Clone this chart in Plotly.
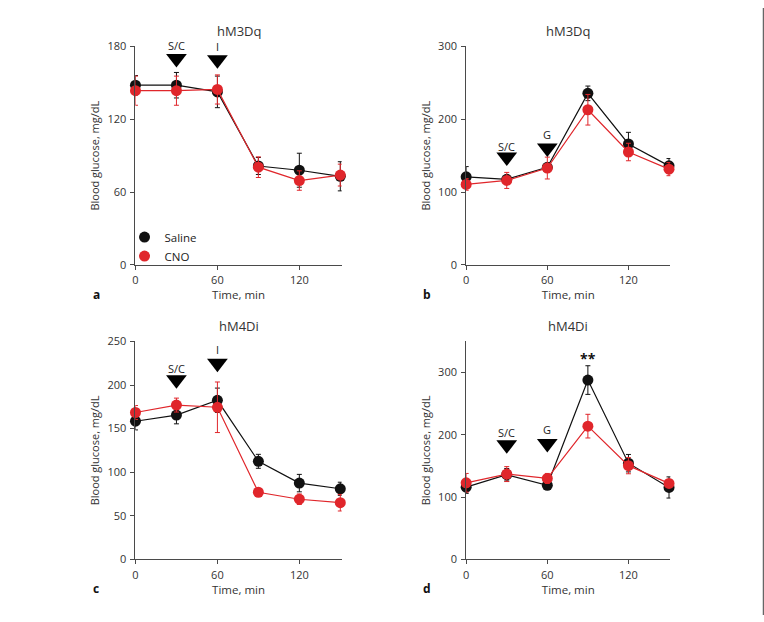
import plotly.graph_objects as go

W, H = 764, 622
time = [0, 30, 60, 90, 120, 150]

# Panel a: hM3Dq, insulin
a_saline = [148, 148, 142.5, 81.5, 78, 73]
a_saline_err = [8, 10.5, 13, 7, 14, 12]
a_cno = [143.5, 143.5, 144.5, 80.5, 69.5, 74]
a_cno_err = [12, 12, 12, 8.5, 8, 9]

# Panel b: hM3Dq, glucose
b_saline = [121, 117.5, 134, 235.5, 166, 136]
b_saline_err = [14, 5, 5, 10, 16, 10]
b_cno = [110.5, 116, 133, 213, 155, 131.5]
b_cno_err = [8, 11, 15, 21, 12, 9]

# Panel c: hM4Di, insulin
c_saline = [158.5, 165.5, 182.5, 112.5, 87.5, 81]
c_saline_err = [10, 10, 14, 8, 10, 7.5]
c_cno = [168.5, 177, 174.5, 77, 69, 65]
c_cno_err = [8, 8, 29, 3, 6, 9.5]

# Panel d: hM4Di, glucose
d_saline = [116, 136, 119, 288, 154.5, 115.5]
d_saline_err = [10, 10, 4, 23, 14, 17]
d_cno = [123, 137, 130, 214, 150.5, 122]
d_cno_err = [15, 12, 8, 19, 13, 5]

titles = ["hM3Dq", "hM3Dq", "hM4Di", "hM4Di"]
panel_letters = ["a", "b", "c", "d"]
y_ranges = [[0, 180], [0, 300], [0, 250], [0, 350]]
y_ticks = [[0, 60, 120, 180], [0, 100, 200, 300], [0, 50, 100, 150, 200, 250], [0, 100, 200, 300]]
x_ticks = [0, 60, 120]
x_range = [0, 151]

# injection markers: (time, y_triangle, label, y_label)
arrows = [
    [(30, 170, "S/C", 180.5), (60, 169, "I", 180)],
    [(30, 148, "S/C", 163), (60, 160.5, "G", 179)],
    [(30, 206, "S/C", 219), (60, 225, "I", 241)],
    [(30, 184, "S/C", 203), (60, 186, "G", 208)],
]
legend_names = ["Saline", "CNO"]

RED = "#e0262b"
BLACK = "#111111"
AXC = "#4a4a4a"
FONT = "Open Sans"

domains_x = [[133 / W, 340 / W], [465 / W, 670 / W], [133 / W, 340 / W], [465 / W, 670 / W]]
domains_y = [[1 - 263.3 / H, 1 - 39.3 / H], [1 - 263.3 / H, 1 - 39.3 / H],
             [1 - 565 / H, 1 - 341.7 / H], [1 - 565 / H, 1 - 341.7 / H]]

data = [
    (a_saline, a_saline_err, a_cno, a_cno_err),
    (b_saline, b_saline_err, b_cno, b_cno_err),
    (c_saline, c_saline_err, c_cno, c_cno_err),
    (d_saline, d_saline_err, d_cno, d_cno_err),
]


def to_paper_x(i, v):
    d = domains_x[i]
    return d[0] + (v - x_range[0]) / (x_range[1] - x_range[0]) * (d[1] - d[0])


def to_paper_y(i, v):
    d = domains_y[i]
    r = y_ranges[i]
    return d[0] + (v - r[0]) / (r[1] - r[0]) * (d[1] - d[0])


fig = go.Figure()
annotations = []
layout = {}
for i, (s, se, c, ce) in enumerate(data):
    n = "" if i == 0 else str(i + 1)
    xa, ya = "x" + n, "y" + n
    for vals, errs, color, name in [(s, se, BLACK, "Saline"), (c, ce, RED, "CNO")]:
        fig.add_trace(go.Scatter(
            x=time, y=vals, xaxis=xa, yaxis=ya, mode="lines+markers",
            name=name, showlegend=False,
            line=dict(color=color, width=1.2),
            marker=dict(color=color, size=11),
            error_y=dict(type="data", array=errs, color=color, thickness=1, width=2.5),
            cliponaxis=False,
        ))
    tx = [t for t, _, _, _ in arrows[i]]
    ty = [y for _, y, _, _ in arrows[i]]
    fig.add_trace(go.Scatter(
        x=tx, y=ty, xaxis=xa, yaxis=ya, mode="markers", showlegend=False,
        marker=dict(symbol="triangle-down", size=18, color="#000000"),
        cliponaxis=False, hoverinfo="skip",
    ))
    for t, _, lab, yl in arrows[i]:
        annotations.append(dict(x=to_paper_x(i, t), y=to_paper_y(i, yl), xref="paper", yref="paper",
                                text=lab, showarrow=False, xanchor="center", yanchor="middle",
                                font=dict(family=FONT, size=11, color="#222")))
    layout["xaxis" + n] = dict(
        domain=domains_x[i], range=x_range, anchor=ya, tickvals=x_ticks,
        showline=True, linecolor=AXC, linewidth=1, ticks="outside", ticklen=4,
        tickcolor=AXC, showgrid=False, zeroline=False, ticklabelstandoff=1,
        tickfont=dict(family=FONT, size=11, color="#333"),
        title=dict(text="Time, min", font=dict(family=FONT, size=11.5, color="#333"), standoff=4),
    )
    layout["yaxis" + n] = dict(
        domain=domains_y[i], range=y_ranges[i], anchor=xa, tickvals=y_ticks[i],
        showline=True, linecolor=AXC, linewidth=1, ticks="outside", ticklen=4,
        tickcolor=AXC, showgrid=False, zeroline=False, ticklabelstandoff=2,
        tickfont=dict(family=FONT, size=11, color="#333"),
        title=dict(text="Blood glucose, mg/dL", font=dict(family=FONT, size=11, color="#333"), standoff=5),
    )
    xc = (domains_x[i][0] + domains_x[i][1]) / 2
    annotations.append(dict(x=xc, y=domains_y[i][1], xref="paper", yref="paper",
                            yshift=15, text=titles[i], showarrow=False,
                            font=dict(family=FONT, size=13, color="#333"),
                            xanchor="center", yanchor="middle"))
    annotations.append(dict(x=domains_x[i][0] - 45 / W, y=domains_y[i][0] - 30 / H,
                            xref="paper", yref="paper", text="<b>" + panel_letters[i] + "</b>",
                            showarrow=False, xanchor="left", yanchor="middle",
                            font=dict(family=FONT, size=12, color="#111")))

annotations.append(dict(x=90, y=322, xref="x4", yref="y4", text="<b>**</b>", showarrow=False,
                        font=dict(family=FONT, size=14, color="#111")))

# legend entries (marker-only swatches, no data)
for nm, col in zip(legend_names, [BLACK, RED]):
    fig.add_trace(go.Scatter(x=[None], y=[None], mode="markers", name=nm,
                             marker=dict(color=col, size=11), showlegend=True))

fig.update_layout(
    width=W, height=H, margin=dict(l=0, r=0, t=0, b=0),
    paper_bgcolor="white", plot_bgcolor="white",
    annotations=annotations,
    showlegend=True,
    legend=dict(x=122 / W, y=1 - 244.5 / H, xanchor="left", yanchor="middle",
                bgcolor="rgba(0,0,0,0)", borderwidth=0, itemwidth=30, tracegroupgap=0,
                font=dict(family=FONT, size=11.5, color="#222")),
    shapes=[dict(type="line", xref="paper", yref="paper", x0=763.5 / W, x1=763.5 / W,
                 y0=0, y1=1, line=dict(color="#666", width=1.5))],
    **layout,
)
fig.write_html("out.html")
